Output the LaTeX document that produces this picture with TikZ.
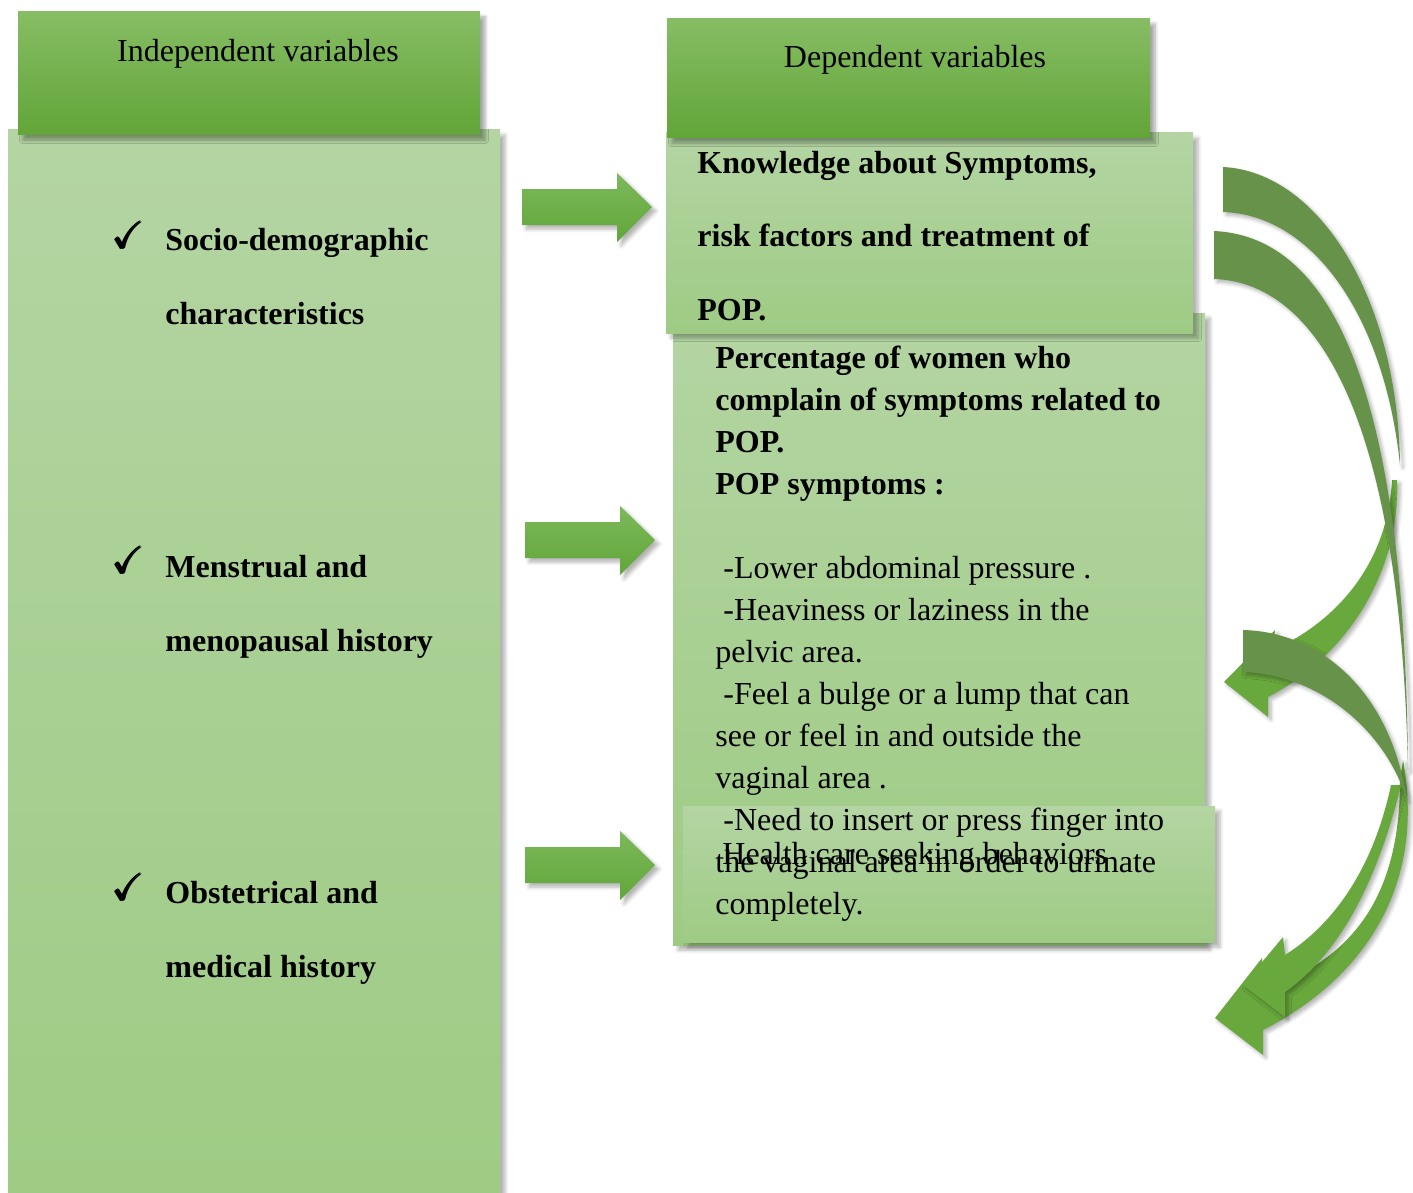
\documentclass[tikz,border=0pt]{standalone}
\usepackage{amsmath}
\usepackage{amssymb}
\usepackage{fontspec}
\setmainfont{Liberation Serif}
\usetikzlibrary{shadows.blur}

\definecolor{hdtop}{RGB}{134,189,100}
\definecolor{hdbot}{RGB}{98,165,56}
\definecolor{bxtop}{RGB}{180,213,163}
\definecolor{bxbot}{RGB}{158,203,132}
\definecolor{ribdark}{RGB}{102,146,74}
\definecolor{riblight}{RGB}{104,168,60}
\definecolor{arrtop}{RGB}{124,185,90}
\definecolor{arrbot}{RGB}{98,166,58}

\tikzset{
  header/.style={top color=hdtop, bottom color=hdbot,
    blur shadow={shadow xshift=2.5pt, shadow yshift=-2.5pt, shadow blur steps=6, shadow opacity=35}},
  panel/.style={top color=bxtop, bottom color=bxbot,
    blur shadow={shadow xshift=2.5pt, shadow yshift=-2.5pt, shadow blur steps=6, shadow opacity=30}},
  blockarrow/.style={top color=arrtop, bottom color=arrbot,
    blur shadow={shadow xshift=2pt, shadow yshift=-2pt, shadow blur steps=5, shadow opacity=30}},
  ribbon/.style={fill=ribdark,
    blur shadow={shadow xshift=1.5pt, shadow yshift=-1.5pt, shadow blur steps=5, shadow opacity=30}},
  ribbonhead/.style={fill=riblight,
    blur shadow={shadow xshift=1.5pt, shadow yshift=-1.5pt, shadow blur steps=5, shadow opacity=30}},
  title/.style={anchor=base, inner sep=0pt, font=\fontsize{16}{19}\selectfont},
  factor/.style={anchor=base west, inner sep=0pt, align=left, font=\fontsize{16}{36.75}\selectfont\bfseries},
  tick/.style={anchor=base, inner sep=0pt, font=\fontsize{19}{22}\selectfont},
  bodytext/.style={anchor=base west, inner sep=0pt, align=left, font=\fontsize{16}{21}\selectfont}
}

\begin{document}
\begin{tikzpicture}[x=0.5pt,y=-0.5pt]
\useasboundingbox (0,0) rectangle (1413,1193);

% independent side
\path[panel] (8,130) rectangle (500,1215);
\path[header] (18,12) rectangle (480,135);
\node[title] (indep) at (258,62) {Independent variables};

% multi-line nodes sit on their last baseline
\node[tick] (chk1) at (129,248) {$\pmb{\checkmark}$};
\node[factor] (soc) at (165,324) {Socio-demographic\\characteristics};
\node[tick] (chk2) at (129,573) {$\pmb{\checkmark}$};
\node[factor] (mens) at (165,651) {Menstrual and\\menopausal history};
\node[tick] (chk3) at (129,900) {$\pmb{\checkmark}$};
\node[factor] (obst) at (165,977) {Obstetrical and\\medical history};

% dependent side
\path[panel] (673,313) rectangle (1205,945);
\path[panel] (666,133) rectangle (1193,333);
\path[header] (667,19) rectangle (1150,138);
\node[title] (dep) at (915,68) {Dependent variables};
\node[factor] (know) at (697,320) {Knowledge about Symptoms,\\risk factors and treatment of\\POP.};
\path[panel] (683,806) rectangle (1215,942);
\node[bodytext] (care) at (722,864) {Health care seeking behaviors};
\node[bodytext] (pct) at (715,914) {\textbf{Percentage of women who}\\
  \textbf{complain of symptoms related to}\\
  \textbf{POP.}\\
  \textbf{POP symptoms :}\\[21pt]
  \ -Lower abdominal pressure .\\
  \ -Heaviness or laziness in the\\
  pelvic area.\\
  \ -Feel a bulge or a lump that can\\
  see or feel in and outside the\\
  vaginal area .\\
  \ -Need to insert or press finger into\\
  the vaginal area in order to urinate\\
  completely.};

% block arrows
\foreach \xs/\yc in {0/207, 3/540, 3/865}
  \path[blockarrow, shift={(\xs,\yc)}] (522,-18) -- (617,-18) -- (617,-34)
    -- (652,0) -- (617,35) -- (617,18) -- (522,18) -- cycle;

% curved arrows on the right
\path[ribbonhead] (1397,480) .. controls (1400,580) and (1340,660) .. (1268,697)
  -- (1268,717) -- (1224,682) -- (1275,630) -- (1273,650)
  .. controls (1340,620) and (1388,560) .. (1392,480) -- cycle;
\path[ribbonhead] (1403,760) .. controls (1425,880) and (1370,975) .. (1263,1030)
  -- (1263,1055) -- (1215,1018) -- (1262,958) -- (1263,990)
  .. controls (1350,960) and (1400,900) .. (1400,780) -- cycle;
\path[ribbonhead] (1401,785) .. controls (1380,870) and (1345,950) .. (1285,992)
  -- (1285,1017) -- (1243,985) -- (1283,937) -- (1285,955)
  .. controls (1340,920) and (1375,860) .. (1391,785) -- cycle;
\path[ribbon] (1223,167) .. controls (1320,172) and (1398,300) .. (1400,465)
  .. controls (1385,320) and (1315,215) .. (1223,212) -- cycle;
\path[ribbon] (1214,231) .. controls (1320,236) and (1405,360) .. (1408,770)
  .. controls (1400,400) and (1310,282) .. (1214,279) -- cycle;
\path[ribbon] (1243,630) .. controls (1320,632) and (1390,690) .. (1407,800)
  .. controls (1385,730) and (1320,675) .. (1243,672) -- cycle;
\end{tikzpicture}
\end{document}
